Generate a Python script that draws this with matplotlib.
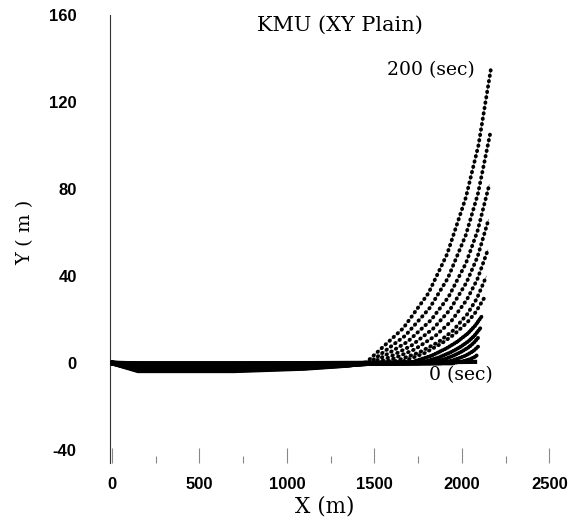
import matplotlib
matplotlib.use("Agg")
import matplotlib.pyplot as plt
from matplotlib.ticker import MultipleLocator

plt.rcParams["axes.unicode_minus"] = False

# ---- data (cable shape at successive times, 0 .. 200 sec)
FLAT_X = [0, 150, 700, 1100, 1350]
FLAT_Y = [
    [0, 0.0, 0.0, 0.0, 0.0],
    [0, -0.3, -0.3, -0.2, -0.1],
    [0, -0.6, -0.6, -0.4, -0.2],
    [0, -0.9, -0.9, -0.6, -0.3],
    [0, -1.2, -1.2, -0.8, -0.4],
    [0, -1.5, -1.5, -1.0, -0.4],
    [0, -1.8, -1.8, -1.3, -0.5],
    [0, -2.1, -2.1, -1.5, -0.6],
    [0, -2.4, -2.4, -1.7, -0.7],
    [0, -2.7, -2.7, -1.9, -0.8],
    [0, -3.0, -3.0, -2.1, -0.9],
    [0, -3.3, -3.3, -2.3, -1.0],
    [0, -3.6, -3.6, -2.5, -1.1],
]
RISE_X = [
    [1450, 2075],
    [1950, 1991, 2018, 2038, 2058, 2072, 2085],
    [1880, 1944, 1986, 2018, 2050, 2071, 2092],
    [1820, 1903, 1959, 2000, 2042, 2069, 2097],
    [1760, 1864, 1933, 1984, 2036, 2071, 2105],
    [1700, 1825, 1909, 1972, 2034, 2076, 2118],
    [1640, 1786, 1884, 1957, 2030, 2079, 2128],
    [1590, 1755, 1865, 1948, 2030, 2085, 2140],
    [1550, 1729, 1849, 1939, 2028, 2088, 2148],
    [1520, 1710, 1836, 1931, 2026, 2089, 2152],
    [1490, 1690, 1823, 1923, 2023, 2089, 2156],
    [1470, 1677, 1815, 1919, 2022, 2091, 2160],
    [1450, 1665, 1808, 1915, 2022, 2094, 2165],
]
RISE_Y = [
    [0, 0.5],
    [0, 0.5, 1.1, 1.5, 2.2, 2.7, 3.5],
    [0, 1.1, 2.3, 3.3, 4.7, 5.9, 7.5],
    [0, 1.8, 3.6, 5.3, 7.4, 9.4, 12],
    [0, 2.4, 4.8, 7.0, 9.9, 12.5, 16],
    [0, 3.3, 6.6, 9.7, 13.6, 17.2, 22],
    [0, 4.5, 9.0, 13.2, 18.6, 23.4, 30],
    [0, 4.8, 9.6, 14.8, 22.4, 29.6, 40],
    [0, 6.2, 12.5, 19.2, 29.1, 38.5, 52],
    [0, 7.9, 15.8, 24.4, 37.0, 48.8, 66],
    [0, 9.8, 19.7, 30.3, 45.9, 60.7, 82],
    [0, 12.6, 25.2, 38.9, 58.8, 77.7, 105],
    [0, 16.0, 32.0, 50.0, 76.0, 100.0, 135],
]
X_TICKS = [0, 500, 1000, 1500, 2000, 2500]
Y_TICKS = [-40, 0, 40, 80, 120, 160]

SERIF = ["DejaVu Serif"]
TICKFONT = ["Liberation Sans", "DejaVu Sans"]

fig = plt.figure(figsize=(5.76, 5.19), dpi=100)
ax = fig.add_axes([110 / 576, 56 / 519, 450 / 576, 448 / 519])

n = len(FLAT_Y)
for k in range(n):
    # flat part: nodes so close they merge into a solid band
    fx = FLAT_X + RISE_X[k][:1]
    fy = FLAT_Y[k] + RISE_Y[k][:1]
    ax.plot(fx, fy, color="black", lw=3.4, solid_capstyle="round", zorder=3)
    rx, ry = RISE_X[k], RISE_Y[k]
    ax.plot(rx, ry, color="#777777", lw=0.5, zorder=2)
    if k == 0:
        ax.plot(rx, ry, color="black", lw=3.0, zorder=3)
        continue
    gap = 0.6 if k <= 5 else 1.3
    ax.plot(rx, ry, color="black", lw=2.8, linestyle=(0, (0.1, gap)),
            dash_capstyle="round", zorder=3)

ax.set_xlim(-10, 2560)
ax.set_ylim(-46, 160)
ax.set_xticks(X_TICKS)
ax.xaxis.set_minor_locator(MultipleLocator(250))
ax.set_yticks(Y_TICKS)

for s in ("top", "right", "bottom"):
    ax.spines[s].set_visible(False)
ax.spines["left"].set_color("#333333")
ax.spines["left"].set_linewidth(0.8)

ax.tick_params(axis="x", which="major", direction="in", length=11, width=0.8,
               color="#888888", pad=10)
ax.tick_params(axis="x", which="minor", direction="in", length=5, width=0.8,
               color="#888888")
ax.tick_params(axis="y", length=0, pad=24)
for lab in ax.get_xticklabels() + ax.get_yticklabels():
    lab.set_fontfamily(TICKFONT)
    lab.set_fontweight("bold")
    lab.set_fontsize(12)

ax.text(0.511, 0.978, "KMU (XY Plain)", transform=ax.transAxes, ha="center",
        va="center", fontsize=15, family=SERIF)
ax.text(1821, 134.7, "200 (sec)", ha="center", va="center", fontsize=13.5,
        family=SERIF)
ax.text(1993, -5.5, "0 (sec)", ha="center", va="center", fontsize=13.5,
        family=SERIF)

fig.text(325 / 576, 1 - 507 / 519, "X (m)", ha="center", va="center",
         fontsize=15.5, family=SERIF)
fig.text(25 / 576, 1 - 232 / 519, "Y ( m )", ha="center", va="center",
         rotation=90, fontsize=14, family=SERIF)

fig.savefig("out.png", dpi=100, facecolor="white")
